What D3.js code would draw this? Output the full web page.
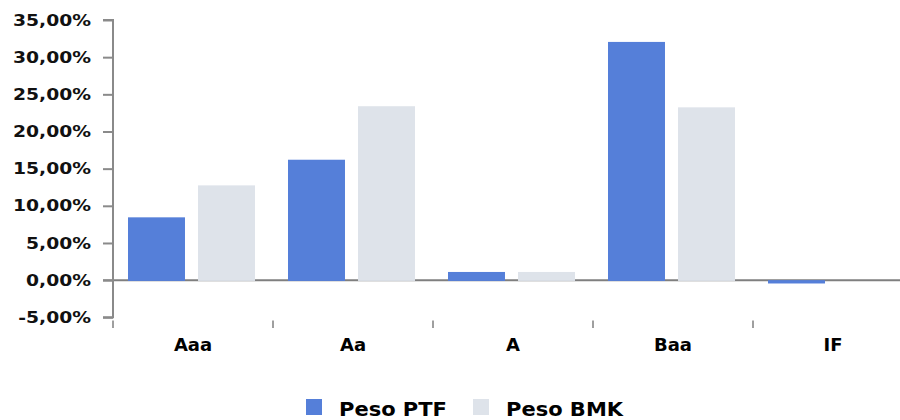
<!DOCTYPE html>
<html>
<head>
<meta charset="utf-8">
<script src="https://cdn.jsdelivr.net/npm/d3@7"></script>
<style>
html,body{margin:0;padding:0;background:#fff;}
svg{display:block;font-family:"DejaVu Sans",Verdana,sans-serif;font-weight:bold;}
</style>
</head>
<body>
<svg id="chart" width="900" height="420"></svg>
<script>
const categories = ["Aaa", "Aa", "A", "Baa", "IF"];
const seriesNames = ["Peso PTF", "Peso BMK"];
const ptfValues = [8.45, 16.2, 1.1, 32.05, -0.45];
const bmkValues = [12.75, 23.4, 1.1, 23.25, 0];
const yTicks = [-5, 0, 5, 10, 15, 20, 25, 30, 35];
const colors = ["#557FD9", "#DEE3EA"];

const svg = d3.select("#chart");
const x = d3.scaleBand().domain(categories).range([113, 913]).paddingInner(0).paddingOuter(0);
const xi = d3.scaleBand().domain(seriesNames).range([15, 142]).paddingInner(0.186).paddingOuter(0);
const y = d3.scaleLinear().domain([-5, 35]).range([317.3, 20]);
const fmt = v => d3.format(".2f")(v).replace(".", ",").replace("\u2212", "-") + "%";

// zero line
svg.append("line").attr("x1", 103).attr("x2", 900)
  .attr("y1", y(0)).attr("y2", y(0))
  .attr("stroke", "#7f7f7f").attr("stroke-width", 2);

// y axis
const yAxis = svg.append("g").attr("transform", "translate(113,0)")
  .call(d3.axisLeft(y).tickValues(yTicks).tickSize(10).tickPadding(12).tickFormat(fmt));
yAxis.select(".domain").attr("stroke", "#8a8a8a").attr("stroke-width", 2).attr("d", `M-10,${y(35)}H0V${y(-5)}H-10`);
yAxis.selectAll(".tick line").attr("stroke", "#8a8a8a").attr("stroke-width", 2);
yAxis.selectAll(".tick text").attr("fill", "#111").attr("font-size", 16)
  .attr("font-family", '"DejaVu Sans",sans-serif').attr("font-weight", "bold")
  .each(function(){ const w = this.getComputedTextLength(); d3.select(this).attr("textLength", w*1.17).attr("lengthAdjust","spacingAndGlyphs"); });
yAxis.attr("font-family", null).attr("font-size", null);

// x axis (ticks only)
const xAxis = svg.append("g").attr("transform", "translate(0,320.5)")
  .call(d3.axisBottom(x).tickSize(0).tickPadding(0));
xAxis.select(".domain").remove();
xAxis.attr("font-family", null).attr("font-size", null);
xAxis.selectAll(".tick text").attr("y", 30.2).attr("dy", null).attr("fill", "#000").attr("font-size", 18).attr("font-weight","bold");
const bounds = categories.map(c => x(c));
svg.append("g").selectAll("line").data(bounds).join("line")
  .attr("x1", d => d).attr("x2", d => d).attr("y1", 320.5).attr("y2", 328)
  .attr("stroke", "#7f7f7f").attr("stroke-width", 1.5);

// bars
const data = categories.map((c, i) => ({ c, vals: [ptfValues[i], bmkValues[i]] }));
const groups = svg.append("g").selectAll("g").data(data).join("g")
  .attr("transform", d => `translate(${x(d.c)},0)`);
groups.selectAll("rect").data(d => d.vals.map((v, j) => ({ v, s: seriesNames[j], j })))
  .join("rect")
  .attr("x", d => xi(d.s)).attr("width", xi.bandwidth())
  .attr("y", d => y(Math.max(0, d.v))).attr("height", d => Math.abs(y(d.v) - y(0)) + (d.v > 0 ? 0.8 : 0))
  .attr("fill", d => colors[d.j]);

// legend
const legend = svg.append("g");
const legendX = [306, 473];
seriesNames.forEach((s, i) => {
  legend.append("rect").attr("x", legendX[i]).attr("y", 399).attr("width", 16).attr("height", 16).attr("fill", colors[i]);
  const t = legend.append("text").attr("x", legendX[i] + 33).attr("y", 415.5).attr("font-size", 20).attr("fill", "#000").text(s);
  const w = t.node().getComputedTextLength();
  t.attr("textLength", w * 1.05).attr("lengthAdjust", "spacingAndGlyphs");
});
</script>
</body>
</html>
